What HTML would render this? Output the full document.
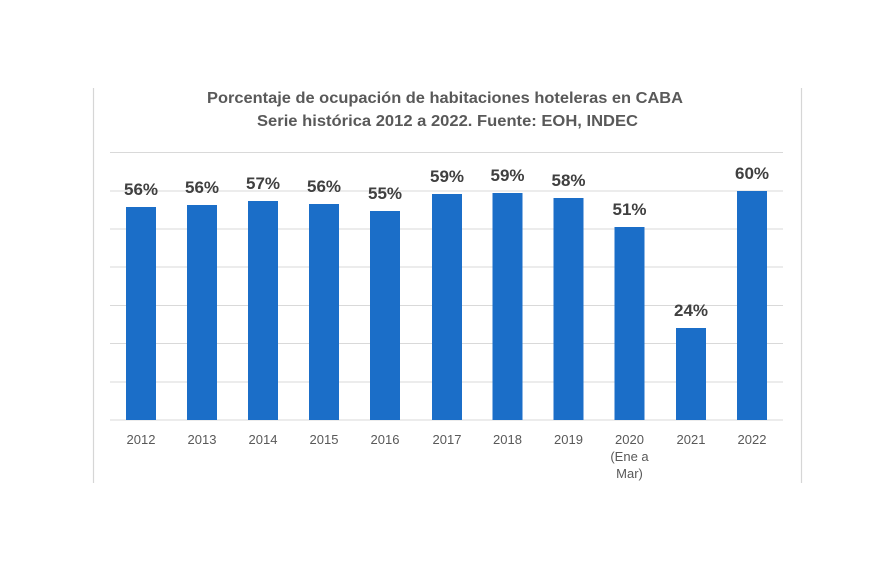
<!DOCTYPE html>
<html>
<head>
<meta charset="utf-8">
<style>
html,body{margin:0;padding:0;background:#fff;}
svg{display:block;}
</style>
</head>
<body>
<svg width="870" height="580" viewBox="0 0 870 580" xmlns="http://www.w3.org/2000/svg" font-family="'Liberation Sans', sans-serif">
<rect width="870" height="580" fill="#fff"/>
<!-- frame side lines -->
<line x1="93.5" y1="88" x2="93.5" y2="483" stroke="#d6d6d6" stroke-width="1.2"/>
<line x1="801.5" y1="88" x2="801.5" y2="483" stroke="#d6d6d6" stroke-width="1.2"/>
<!-- title -->
<text x="445" y="103" text-anchor="middle" font-size="16" font-weight="bold" fill="#595959" textLength="476" lengthAdjust="spacingAndGlyphs">Porcentaje de ocupación  de habitaciones hoteleras en CABA</text>
<text x="447.5" y="126" text-anchor="middle" font-size="16" font-weight="bold" fill="#595959" textLength="381" lengthAdjust="spacingAndGlyphs">Serie histórica 2012 a 2022. Fuente: EOH, INDEC</text>
<!-- gridlines -->
<g stroke="#d9d9d9" stroke-width="1">
<line x1="110" y1="152.5" x2="783" y2="152.5"/>
<line x1="110" y1="191" x2="783" y2="191"/>
<line x1="110" y1="229" x2="783" y2="229"/>
<line x1="110" y1="267" x2="783" y2="267"/>
<line x1="110" y1="305.5" x2="783" y2="305.5"/>
<line x1="110" y1="343.5" x2="783" y2="343.5"/>
<line x1="110" y1="382" x2="783" y2="382"/>
<line x1="110" y1="420" x2="783" y2="420"/>
</g>
<!-- bars -->
<g fill="#1b6ec8">
<rect x="126" y="207" width="30" height="213"/>
<rect x="187" y="205" width="30" height="215"/>
<rect x="248" y="201" width="30" height="219"/>
<rect x="309" y="204" width="30" height="216"/>
<rect x="370" y="211" width="30" height="209"/>
<rect x="432" y="194" width="30" height="226"/>
<rect x="492.5" y="193" width="30" height="227"/>
<rect x="553.5" y="198" width="30" height="222"/>
<rect x="614.5" y="227" width="30" height="193"/>
<rect x="676" y="328" width="30" height="92"/>
<rect x="737" y="191" width="30" height="229"/>
</g>
<!-- data labels -->
<g font-size="17" font-weight="bold" fill="#404040" text-anchor="middle">
<text x="141" y="195">56%</text>
<text x="202" y="193">56%</text>
<text x="263" y="189">57%</text>
<text x="324" y="192">56%</text>
<text x="385" y="199">55%</text>
<text x="447" y="182">59%</text>
<text x="507.5" y="181">59%</text>
<text x="568.5" y="186">58%</text>
<text x="629.5" y="215">51%</text>
<text x="691" y="316">24%</text>
<text x="752" y="179">60%</text>
</g>
<!-- axis labels -->
<g font-size="13" fill="#595959" text-anchor="middle">
<text x="141" y="444">2012</text>
<text x="202" y="444">2013</text>
<text x="263" y="444">2014</text>
<text x="324" y="444">2015</text>
<text x="385" y="444">2016</text>
<text x="447" y="444">2017</text>
<text x="507.5" y="444">2018</text>
<text x="568.5" y="444">2019</text>
<text x="629.5" y="444">2020</text>
<text x="629.5" y="461">(Ene a</text>
<text x="629.5" y="478">Mar)</text>
<text x="691" y="444">2021</text>
<text x="752" y="444">2022</text>
</g>
</svg>
</body>
</html>
